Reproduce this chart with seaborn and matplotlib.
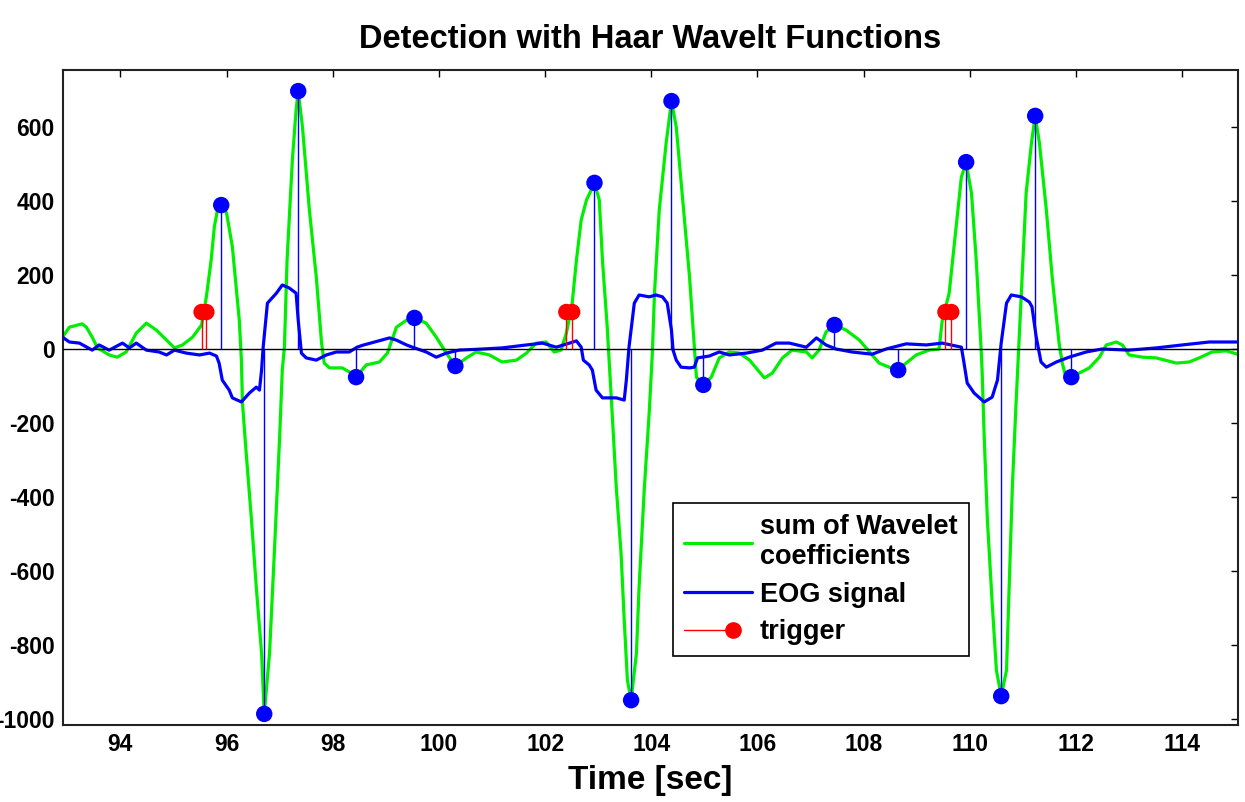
import numpy as np
import pandas as pd
import matplotlib
matplotlib.use("Agg")
import matplotlib.pyplot as plt
import seaborn as sns
from matplotlib.lines import Line2D
from matplotlib.legend_handler import HandlerBase

# sum of Haar wavelet coefficients
green_t = [92.91, 93.04, 93.28, 93.36, 93.47, 93.57, 93.79, 93.94, 94.11, 94.30,
           94.49, 94.68, 94.87, 95.02, 95.17, 95.36, 95.53, 95.62, 95.71, 95.77,
           95.83, 95.90, 96.00, 96.11, 96.24, 96.28, 96.30, 96.37, 96.47, 96.56,
           96.66, 96.71, 96.81, 96.90, 97.00, 97.05, 97.09, 97.14, 97.24, 97.31,
           97.35, 97.43, 97.56, 97.69, 97.79, 97.84, 97.94, 98.18, 98.35, 98.44,
           98.63, 98.88, 99.03, 99.20, 99.39, 99.54, 99.76, 99.95, 100.14, 100.31,
           100.52, 100.70, 100.95, 101.19, 101.46, 101.65, 101.83, 102.02, 102.17, 102.30,
           102.40, 102.45, 102.51, 102.59, 102.68, 102.78, 102.87, 102.93, 103.02, 103.08,
           103.17, 103.27, 103.34, 103.43, 103.49, 103.55, 103.62, 103.72, 103.77, 103.87,
           103.96, 104.02, 104.06, 104.15, 104.28, 104.38, 104.47, 104.58, 104.72, 104.81,
           104.85, 104.98, 105.13, 105.28, 105.47, 105.66, 105.85, 106.13, 106.28, 106.47,
           106.65, 106.92, 107.03, 107.16, 107.29, 107.45, 107.67, 107.92, 108.16, 108.29,
           108.48, 108.65, 108.80, 108.99, 109.23, 109.42, 109.48, 109.61, 109.74, 109.84,
           109.93, 110.03, 110.12, 110.21, 110.23, 110.27, 110.33, 110.42, 110.50, 110.59,
           110.69, 110.74, 110.80, 110.87, 110.93, 110.97, 111.06, 111.16, 111.23, 111.31,
           111.44, 111.55, 111.68, 111.74, 111.81, 111.91, 112.06, 112.25, 112.44, 112.57,
           112.76, 112.87, 113.00, 113.25, 113.51, 113.89, 114.13, 114.32, 114.56, 114.83,
           115.04]
green_v = [32, 59, 68, 59, 32, 3, -16, -22, -8, 43,
           70, 51, 24, 3, 11, 32, 65, 141, 240, 330,
           376, 389, 368, 276, 78, -30, -146, -281, -462, -643,
           -822, -986, -822, -551, -238, -57, 5, 240, 511, 646,
           697, 600, 376, 195, 16, -38, -51, -51, -65, -76,
           -43, -35, -11, 59, 78, 84, 70, 32, -11, -46,
           -24, -8, -16, -35, -30, -11, 16, 19, -8, -3,
           43, 78, 124, 240, 349, 403, 430, 449, 403, 240,
           59, -192, -373, -551, -732, -895, -949, -822, -643, -373,
           -173, -11, 151, 376, 557, 670, 600, 422, 195, 5,
           -76, -97, -76, -24, -8, -11, -30, -78, -65, -24,
           -3, -8, -24, -3, 46, 65, 51, 24, -16, -38,
           -49, -57, -38, -16, -3, 0, 78, 151, 330, 465,
           503, 422, 240, 5, -57, -238, -462, -686, -868, -938,
           -868, -643, -373, -146, 32, 151, 422, 557, 630, 557,
           376, 195, 16, -38, -76, -76, -65, -51, -22, 11,
           19, 11, -16, -22, -24, -38, -35, -24, -8, -5,
           -14]

# EOG signal
eog_t = [92.91, 93.04, 93.23, 93.47, 93.60, 93.79, 94.04, 94.17, 94.30, 94.49,
         94.73, 94.87, 95.02, 95.24, 95.49, 95.68, 95.81, 95.86, 95.92, 96.05,
         96.11, 96.28, 96.43, 96.56, 96.62, 96.66, 96.69, 96.77, 96.94, 97.05,
         97.18, 97.31, 97.35, 97.41, 97.50, 97.69, 97.88, 98.07, 98.31, 98.46,
         98.56, 99.07, 99.20, 99.39, 99.50, 99.76, 99.95, 100.14, 100.38, 100.82,
         101.19, 101.65, 101.95, 102.21, 102.46, 102.59, 102.68, 102.72, 102.83, 102.89,
         102.96, 103.08, 103.34, 103.49, 103.53, 103.58, 103.68, 103.77, 103.96, 104.09,
         104.21, 104.30, 104.38, 104.41, 104.47, 104.56, 104.72, 104.81, 104.87, 105.09,
         105.28, 105.47, 105.79, 106.09, 106.35, 106.60, 106.92, 107.11, 107.29, 107.48,
         107.78, 108.16, 108.42, 108.80, 109.18, 109.48, 109.84, 109.89, 109.95, 110.08,
         110.27, 110.42, 110.52, 110.59, 110.69, 110.78, 110.97, 111.12, 111.17, 111.25,
         111.34, 111.44, 111.63, 111.87, 112.19, 112.49, 113.00, 113.51, 114.00, 114.51,
         115.04]
eog_v = [32, 19, 16, -3, 11, -3, 16, 3, 16, -3,
         -8, -16, -3, -11, -16, -11, -19, -38, -84, -111,
         -132, -143, -119, -103, -111, -57, 5, 124, 151, 173,
         165, 151, 78, -11, -24, -30, -16, -8, -8, 5,
         10, 30, 24, 11, 5, -8, -22, -11, -3, 0,
         3, 11, 16, 5, 16, 22, 5, -30, -43, -57,
         -111, -132, -132, -138, -84, 5, 124, 146, 141, 146,
         141, 124, 51, -3, -30, -49, -51, -49, -24, -19,
         -8, -16, -11, -3, 16, 16, 5, 30, 11, 0,
         -8, -14, 0, 14, 11, 16, 5, -38, -92, -119,
         -143, -130, -84, 16, 124, 146, 141, 127, 114, 32,
         -35, -49, -35, -22, -8, 0, -3, 3, 11, 19,
         19]

# detected extrema (blue stems) and triggers (red stems)
peak_t = [95.90, 96.71, 97.35, 98.44, 99.54, 100.31, 102.93, 103.62,
          104.38, 104.98, 107.45, 108.65, 109.93, 110.59, 111.23, 111.91]
peak_v = [389, -986, 697, -76, 84, -46, 449, -949,
          670, -97, 65, -57, 505, -938, 630, -76]
trig_t = [95.53, 95.62, 102.40, 102.51, 109.54, 109.65]
trig_v = [100, 100, 100, 100, 100, 100]

x_ticks = list(range(94, 115, 2))
y_ticks = list(range(-1000, 601, 200))


class TriggerHandler(HandlerBase):
    # MATLAB style stem legend: short line with the marker at its end
    def create_artists(self, legend, orig_handle, xdescent, ydescent,
                       width, height, fontsize, trans):
        y = height / 2 - ydescent
        x_end = -xdescent + width * 0.72
        line = Line2D([-xdescent, x_end], [y, y], color="red", lw=1)
        dot = Line2D([x_end], [y], marker="o", ms=11, color="red", ls="none")
        line.set_transform(trans)
        dot.set_transform(trans)
        return [line, dot]


sns.set_style("white")
plt.rcParams["font.family"] = ["Liberation Sans", "DejaVu Sans"]
plt.rcParams["font.weight"] = "bold"
plt.rcParams["axes.unicode_minus"] = False
plt.rcParams["text.color"] = "black"
plt.rcParams["axes.labelcolor"] = "black"

fig = plt.figure(figsize=(12.45, 8.02), dpi=100)
ax = fig.add_axes([63 / 1245, 1 - 725 / 802, 1175 / 1245, 655 / 802])

df_green = pd.DataFrame({"t": green_t, "v": green_v})
df_eog = pd.DataFrame({"t": eog_t, "v": eog_v})

sns.lineplot(data=df_green, x="t", y="v", color="#00ee00", lw=2.3,
             sort=False, estimator=None, ax=ax, zorder=2)
sns.lineplot(data=df_eog, x="t", y="v", color="#0000ff", lw=2.3,
             sort=False, estimator=None, ax=ax, zorder=3)

ax.axhline(0, color="black", lw=1, zorder=4)
ax.vlines(peak_t, 0, peak_v, color="#0000ff", lw=1, zorder=5)
ax.vlines(trig_t, 0, trig_v, color="red", lw=1, zorder=5)
sns.scatterplot(x=peak_t, y=peak_v, color="#0000ff", s=140, edgecolor="none",
                ax=ax, zorder=6)
sns.scatterplot(x=trig_t, y=trig_v, color="red", s=140, edgecolor="none",
                ax=ax, zorder=6)

ax.set_xlim(92.92, 115.05)
ax.set_ylim(-1016, 754)
ax.set_xticks(x_ticks)
ax.set_yticks(y_ticks)
ax.tick_params(direction="in", length=5, width=1, top=True, right=True,
               labelsize=16.5, pad=6, colors="black")
for lab in ax.get_xticklabels() + ax.get_yticklabels():
    lab.set_fontweight("bold")
for s in ax.spines.values():
    s.set_color("#222222")
    s.set_linewidth(1.5)

ax.set_title("Detection with Haar Wavelt Functions", fontsize=23.5,
             fontweight="bold", pad=16, color="black")
ax.set_xlabel("Time [sec]", fontsize=24, fontweight="bold", labelpad=6)
ax.set_ylabel("")

handles = [Line2D([], [], color="#00ee00", lw=2.3),
           Line2D([], [], color="#0000ff", lw=2.3),
           Line2D([], [], color="red")]
labels = ["sum of Wavelet\ncoefficients", "EOG signal", "trigger"]
leg = ax.legend(handles, labels, loc="upper left", bbox_to_anchor=(0.519, 0.339),
                fontsize=19.5, handlelength=2.5, handletextpad=0.3,
                labelspacing=0.42, borderpad=0.42, borderaxespad=0,
                fancybox=False, framealpha=1, edgecolor="black",
                handler_map={handles[2]: TriggerHandler()})
leg.get_frame().set_linewidth(1.2)
for t in leg.get_texts():
    t.set_fontweight("bold")
    t.set_color("black")

fig.savefig("out.png", dpi=100)
